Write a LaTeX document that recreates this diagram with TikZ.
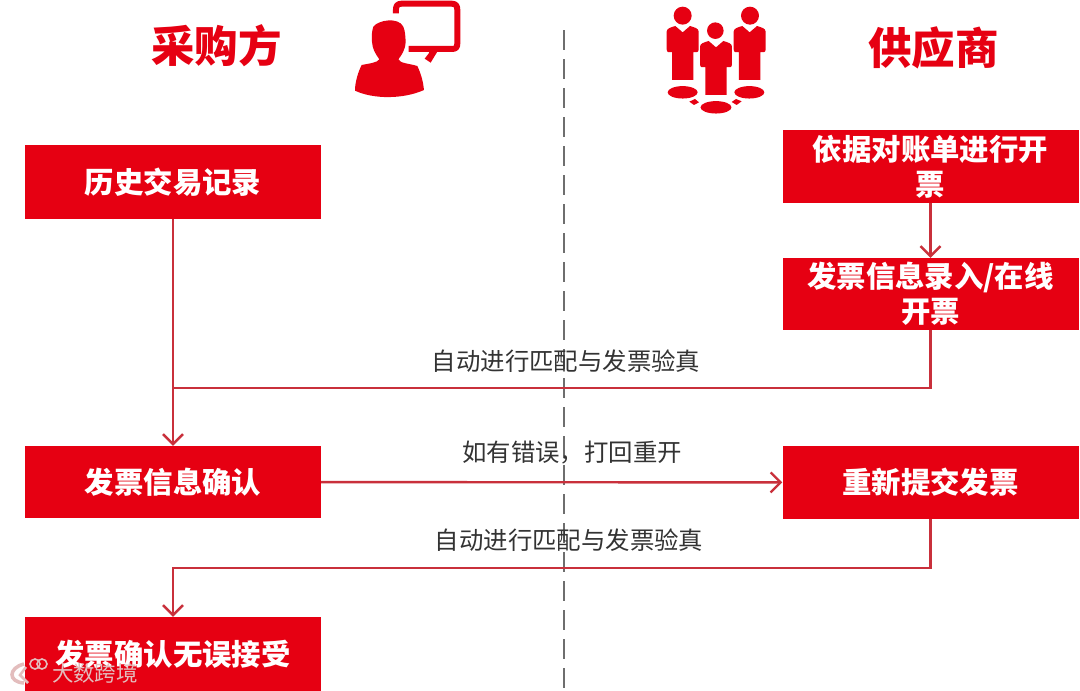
\documentclass[tikz,border=0pt]{standalone}
\usepackage{fontspec}
\usetikzlibrary{arrows.meta}
\newfontfamily\cjk{Noto Sans CJK SC}
\definecolor{brandred}{HTML}{E60012}
\definecolor{linered}{HTML}{C9303B}
\definecolor{dashgray}{HTML}{6E6E6E}
\definecolor{labelgray}{HTML}{333333}
\definecolor{markcolor}{HTML}{E3BDBD}
\tikzset{
  stepbox/.style={fill=brandred,draw=none,minimum width=296pt,inner sep=0pt,align=center,text=white,
    font=\cjk\bfseries\fontsize{29.4}{35}\selectfont},
  titletext/.style={text=brandred,inner sep=0pt,font=\cjk\bfseries\fontsize{43.5}{48}\selectfont},
  flowlabel/.style={text=labelgray,inner sep=0pt,font=\cjk\fontsize{24.4}{28}\selectfont},
  flow/.style={draw=linered,line width=2.4pt},
  flowtip/.style={flow,-{Straight Barb[length=10pt,width=20pt,line width=2.4pt]}},
  divider/.style={draw=dashgray,line width=2pt,dash pattern=on 20pt off 9pt}
}
\newcommand{\personbody}[1]{%
  \begin{scope}[shift={(#1,0)}]
    \fill[brandred] (-48,95) .. controls (-48,85) and (-35,82) .. (-22,78) -- (0,97) -- (22,78)
      .. controls (35,82) and (48,85) .. (48,95) -- (48,148) .. controls (48,158) and (40,158) .. (32,156)
      -- (32,240) -- (-32,240) -- (-32,156) .. controls (-40,158) and (-48,158) .. (-48,148) -- cycle;
  \end{scope}}
\begin{document}
\begin{tikzpicture}[x=1pt,y=-1pt]
\useasboundingbox (0,0) rectangle (1080,691);
\fill[white] (0,0) rectangle (1080,691);
% centre divider
\coordinate (divtop) at (564,30);
\coordinate (divbot) at (564,691);
\draw[divider] (divtop) -- (divbot);
% titles
\node[titletext] (buyer) at (216.5,46) {采购方};
\node[titletext] (supplier) at (933.5,48) {供应商};
% buyer icon
\begin{scope}[shift={(340,0)},x=0.3333pt,y=-0.3333pt]
  \fill[brandred] (100,80) .. controls (115,60) and (175,50) .. (190,80)
    .. controls (196,95) and (196,110) .. (197,125) .. controls (196,150) and (185,165) .. (175,178)
    .. controls (180,190) and (205,190) .. (232,198)
    .. controls (245,225) and (250,250) .. (252,270)
    .. controls (190,298) and (100,298) .. (45,272)
    .. controls (45,245) and (55,215) .. (65,195)
    .. controls (90,190) and (112,188) .. (118,178) .. controls (105,160) and (97,145) .. (96,125)
    .. controls (95,110) and (95,95) .. (100,80) -- cycle;
  \draw[brandred,line width=6pt,line join=round] (168,40) -- (168,28) .. controls (168,18) and (172,11) .. (185,11)
    -- (335,11) .. controls (348,11) and (352,18) .. (352,30) -- (352,130) .. controls (352,142) and (348,147) .. (335,147)
    -- (206,147);
  \fill[brandred] (262,150) -- (295,150) -- (272,188) -- (254,176) -- (268,158) -- cycle;
\end{scope}
% supplier icon
\begin{scope}[shift={(650,0)},x=0.3333pt,y=-0.3333pt]
  \personbody{98}\personbody{299}
  \begin{scope}[shift={(0,45)}]\personbody{198}\end{scope}
  \fill[brandred] (98,47) circle[radius=9pt];
  \fill[brandred] (300,47) circle[radius=9pt];
  \fill[brandred] (196,92) circle[radius=8.3pt];
  \fill[brandred] (98,277) ellipse[x radius=15pt,y radius=6.2pt];
  \fill[brandred] (298,277) ellipse[x radius=15pt,y radius=6.2pt];
  \fill[brandred] (198,322) ellipse[x radius=15.5pt,y radius=6.2pt];
  \fill[brandred] (118,305) -- (135,297) -- (147,307) -- (132,315) -- cycle;
  \fill[brandred] (245,306) -- (258,297) -- (275,304) -- (260,315) -- cycle;
\end{scope}
% boxes
\node[stepbox,minimum height=74pt] (history) at (173,182) {历史交易记录};
\node[stepbox,minimum height=73pt] (invoice) at (930.5,166.5) {依据对账单进行开\\票};
\node[stepbox,minimum height=72pt] (entry) at (930.5,294) {发票信息录入/在线\\开票};
\node[stepbox,minimum height=72pt] (confirm) at (173,482) {发票信息确认};
\node[stepbox,minimum height=73pt] (resubmit) at (930.5,482.5) {重新提交发票};
\node[stepbox,minimum height=74pt] (accept) at (173,654) {发票确认无误接受};
% connectors
\coordinate (joinA) at (173,388);
\coordinate (joinB) at (173,568);
\draw[flowtip] (history) -- (confirm);
\draw[flowtip] (invoice) -- (entry);
\draw[flow] (entry) |- (joinA);
\draw[flowtip] (confirm) -- (resubmit);
\draw[flowtip] (resubmit) |- (joinB) -- (accept);
% labels
\node[flowlabel] (match1) at (566,361) {自动进行匹配与发票验真};
\node[flowlabel] (reject) at (572,453) {如有错误^^^^ff0c打回重开};
\node[flowlabel] (match2) at (569,540) {自动进行匹配与发票验真};
% watermark
\draw[markcolor,line width=3.5pt] (24,664) .. controls (8,668) and (8,682) .. (24,683);
\draw[markcolor,line width=2.5pt] (26,667) -- (20,675) -- (28,683);
\draw[markcolor,line width=1.6pt] (35,664) circle[radius=5pt];
\draw[markcolor,line width=1.6pt] (42,664) circle[radius=5pt];
\node[text=markcolor,inner sep=0pt,font=\cjk\fontsize{21.5}{25}\selectfont] (mark) at (95,673) {大数跨境};
\end{tikzpicture}
\end{document}
